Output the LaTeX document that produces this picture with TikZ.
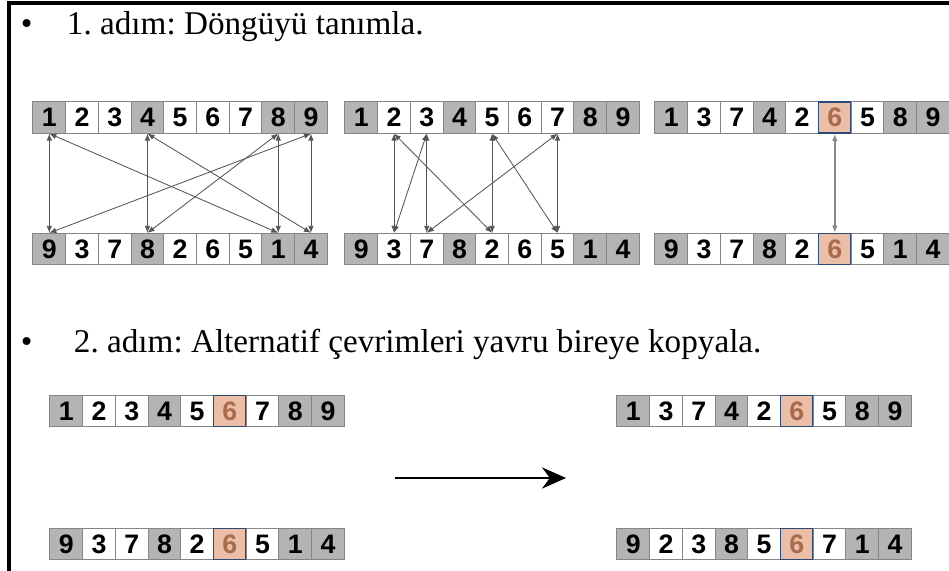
\documentclass[tikz,border=0pt]{standalone}
\usepackage{fontspec}
\setmainfont{Liberation Serif}
\setsansfont{Liberation Sans}
\usetikzlibrary{arrows.meta}
\frenchspacing

\definecolor{hucregri}{HTML}{B4B4B4}
\definecolor{kenargri}{HTML}{858585}
\definecolor{secili}{HTML}{EBBEA8}
\definecolor{seciliyazi}{HTML}{A86B4C}
\definecolor{secilikenar}{HTML}{2B4A78}
\definecolor{okgri}{HTML}{555555}

\tikzset{
	h0/.style={draw=kenargri, fill=white, minimum width=0.82cm, minimum height=0.78cm,
		inner sep=0pt, line width=0.7pt, font=\sffamily\bfseries\fontsize{19}{19}\selectfont},
	h1/.style={h0, fill=hucregri},
	h2/.style={h0, fill=secili, draw=secilikenar, line width=1.1pt, text=seciliyazi},
	hucre/.code={\ifcase#1\relax\tikzset{h0}\or\tikzset{h1}\or\tikzset{h2}\fi},
	dongu/.style={okgri, line width=0.6pt, {Latex[length=5pt,width=4pt]}-{Latex[length=5pt,width=4pt]}},
	baslik/.style={anchor=base west, font=\fontsize{23.6}{28}\selectfont},
}

% one chromosome: name, left edge, centre line, genes, marked gene (0 = none)
\newcommand\kromozom[5]{
	\foreach \v [count=\i] in {#4} {
		\pgfmathtruncatemacro\tip{ifthenelse(\i==#5,2,ifthenelse(\i==1||\i==4||\i==8||\i==9,1,0))}
		\node[hucre=\tip] (#1-\i) at ({#2+(\i-0.5)*32.7},#3) {\v};
	}
}

\begin{document}
\begin{tikzpicture}[x=0.025cm, y=-0.025cm]
	\useasboundingbox (0,0) rectangle (949,571);
	\draw[line width=2.2pt] (949,3) -- (9,3) -- (9,571);

	% 1. adim
	\node[baslik] (m1) at (16,35) {\textbullet};
	\node[baslik] (s1) at (62,35) {1. adım: Döngüyü tanımla.};

	\kromozom{t1}{33}{117.5}{1,2,3,4,5,6,7,8,9}{0}
	\kromozom{b1}{33}{249}{9,3,7,8,2,6,5,1,4}{0}
	\kromozom{t2}{345}{117.5}{1,2,3,4,5,6,7,8,9}{0}
	\kromozom{b2}{345}{249}{9,3,7,8,2,6,5,1,4}{0}
	\kromozom{t3}{655}{117.5}{1,3,7,4,2,6,5,8,9}{6}
	\kromozom{b3}{655}{249}{9,3,7,8,2,6,5,1,4}{6}

	% first cycle
	\foreach \k in {1,4,8,9}
		\draw[dongu] (t1-\k.south) -- (b1-\k.north);
	\foreach \a/\b in {1/9,9/4,4/8,8/1}
		\draw[dongu] (b1-\a.north) -- (t1-\b.south);

	% second cycle
	\foreach \k in {2,3,5,7}
		\draw[dongu] (t2-\k.south) -- (b2-\k.north);
	\foreach \a/\b in {2/3,3/7,7/5,5/2}
		\draw[dongu] (b2-\a.north) -- (t2-\b.south);

	\draw[dongu, okgri!70, line width=1pt] (t3-6.south) -- (b3-6.north);

	% 2. adim
	\node[baslik] (m2) at (16,353) {\textbullet};
	\node[baslik] (s2) at (69,353) {2. adım: Alternatif çevrimleri yavru bireye kopyala.};

	\kromozom{e1}{50}{411}{1,2,3,4,5,6,7,8,9}{6}
	\kromozom{e2}{50}{544}{9,3,7,8,2,6,5,1,4}{6}
	\kromozom{y1}{617}{411}{1,3,7,4,2,6,5,8,9}{6}
	\kromozom{y2}{617}{544}{9,2,3,8,5,6,7,1,4}{6}

	\coordinate (okbas) at (395,478);
	\coordinate (oksonu) at (566,478);
	\draw[line width=2.1pt, -{Stealth[length=17pt,width=15pt]}] (okbas) -- (oksonu);
\end{tikzpicture}
\end{document}
